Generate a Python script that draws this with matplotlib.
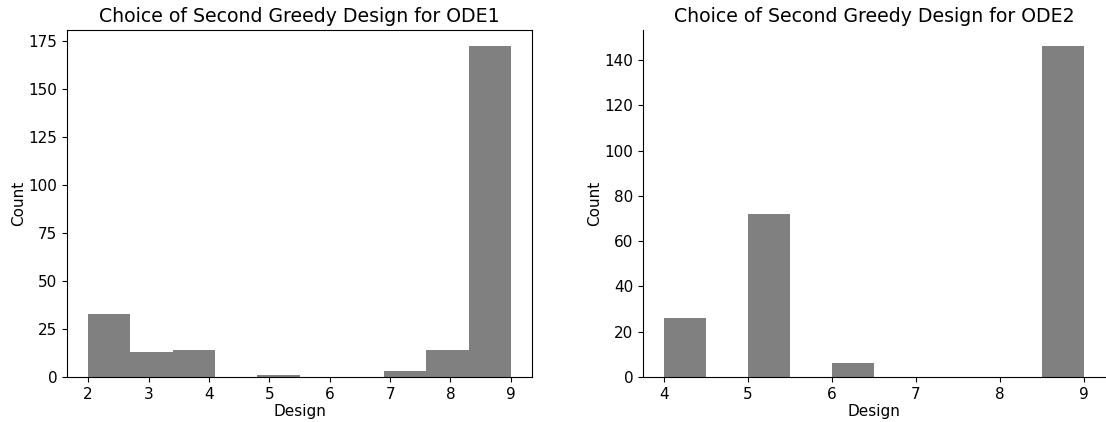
import numpy as np
import matplotlib.pyplot as plt

# second greedy design chosen, with how often it was picked
designs_ode1 = [2, 3, 4, 5, 7, 8, 9]
counts_ode1 = [33, 13, 14, 1, 3, 14, 172]

designs_ode2 = [4, 5, 6, 9]
counts_ode2 = [26, 72, 6, 146]

plt.rcParams['font.size'] = 11
plt.rcParams['axes.labelpad'] = 1.5

fig = plt.figure(figsize=(11.06, 4.22), dpi=100)
ax1 = fig.add_axes([0.0606, 0.1066, 0.4204, 0.8224])
ax2 = fig.add_axes([0.5814, 0.1066, 0.4176, 0.8224])

ax1.hist(designs_ode1, bins=10, weights=counts_ode1, color='gray')
ax1.set_title('Choice of Second Greedy Design for ODE1', fontsize=13.6)
ax1.set_xlabel('Design')
ax1.set_ylabel('Count')

ax2.hist(designs_ode2, bins=10, weights=counts_ode2, color='gray')
ax2.set_title('Choice of Second Greedy Design for ODE2', fontsize=13.6)
ax2.set_xlabel('Design')
ax2.set_ylabel('Count')
ax2.spines['top'].set_visible(False)
ax2.spines['right'].set_visible(False)

fig.savefig('out.png', dpi=100)
